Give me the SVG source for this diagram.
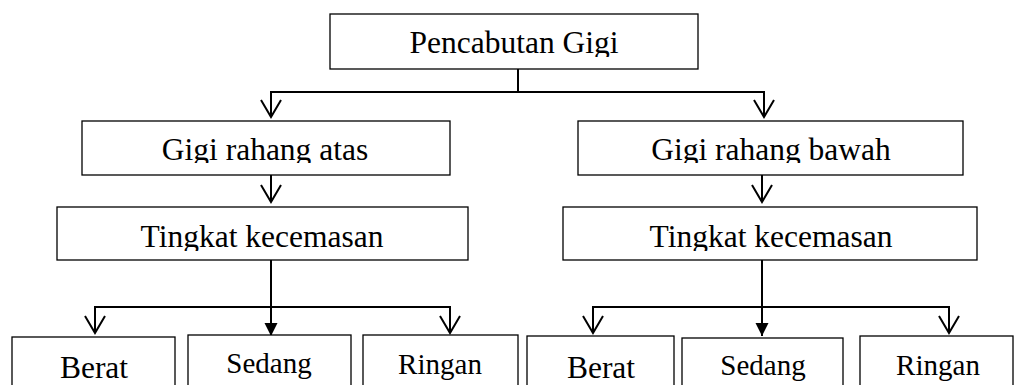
<svg xmlns="http://www.w3.org/2000/svg" width="1014" height="385" viewBox="0 0 1014 385">
<style>
.box{fill:#fff;stroke:#000;stroke-width:1.3}
.conn{fill:none;stroke:#000;stroke-width:2}
.t{font-family:"Liberation Serif","Times New Roman",serif;fill:#000;text-anchor:middle}
.big{font-size:31.5px}
.sm{font-size:29px}
</style>
<defs>
<marker id="vee" markerUnits="userSpaceOnUse" viewBox="-20 -13 23 26" refX="0" refY="0" markerWidth="23" markerHeight="26" orient="auto">
<path d="M-17,-10 L0,0 L-17,10" fill="none" stroke="#000" stroke-width="2"/>
</marker>
<marker id="tri" markerUnits="userSpaceOnUse" viewBox="-15 -8 16 16" refX="0" refY="0" markerWidth="16" markerHeight="16" orient="auto">
<path d="M-13,-6.5 L0,0 L-13,6.5 Z" fill="#000"/>
</marker>
<clipPath id="c-root"><rect x="330" y="14" width="368" height="43"/></clipPath>
<clipPath id="c-upL"><rect x="82" y="121" width="368" height="42"/></clipPath>
<clipPath id="c-upR"><rect x="578" y="121" width="385" height="42"/></clipPath>
<clipPath id="c-tkL"><rect x="57" y="207" width="411" height="44"/></clipPath>
<clipPath id="c-tkR"><rect x="563" y="207" width="414" height="44"/></clipPath>
</defs>

<g id="connectors">
<path class="conn" d="M518,69 V92 H271 V117" marker-end="url(#vee)"/>
<path class="conn" d="M518,92 H764 V117" marker-end="url(#vee)"/>
<path class="conn" d="M271,175 V202" marker-end="url(#vee)"/>
<path class="conn" d="M762,175 V202" marker-end="url(#vee)"/>
<path class="conn" d="M271,260 V336" marker-end="url(#tri)"/>
<path class="conn" d="M271,307 H95 V333" marker-end="url(#vee)"/>
<path class="conn" d="M271,307 H450 V333" marker-end="url(#vee)"/>
<path class="conn" d="M762,260 V336" marker-end="url(#tri)"/>
<path class="conn" d="M762,307 H593 V333" marker-end="url(#vee)"/>
<path class="conn" d="M762,307 H949 V333" marker-end="url(#vee)"/>
</g>

<g id="root">
<rect class="box" x="330" y="14" width="368" height="55"/>
<text class="t big" x="514" y="53" clip-path="url(#c-root)">Pencabutan Gigi</text>
</g>
<g id="upper-jaw">
<rect class="box" x="82" y="121" width="368" height="54"/>
<text class="t big" x="265" y="160" clip-path="url(#c-upL)">Gigi rahang atas</text>
</g>
<g id="lower-jaw">
<rect class="box" x="578" y="121" width="385" height="54"/>
<text class="t big" x="771" y="160" clip-path="url(#c-upR)">Gigi rahang bawah</text>
</g>
<g id="anxiety-left">
<rect class="box" x="57" y="207" width="411" height="53"/>
<text class="t big" x="262" y="247" clip-path="url(#c-tkL)">Tingkat kecemasan</text>
</g>
<g id="anxiety-right">
<rect class="box" x="563" y="207" width="414" height="53"/>
<text class="t big" x="771" y="247" clip-path="url(#c-tkR)">Tingkat kecemasan</text>
</g>

<g id="berat-left">
<rect class="box" x="12" y="337" width="163" height="70"/>
<text class="t big" x="94" y="378">Berat</text>
</g>
<g id="sedang-left">
<rect class="box" x="188" y="335" width="163" height="70"/>
<text class="t sm" x="269" y="373">Sedang</text>
</g>
<g id="ringan-left">
<rect class="box" x="363" y="335" width="155" height="70"/>
<text class="t sm" x="440" y="374">Ringan</text>
</g>
<g id="berat-right">
<rect class="box" x="527" y="336" width="147" height="70"/>
<text class="t big" x="601" y="378">Berat</text>
</g>
<g id="sedang-right">
<rect class="box" x="682" y="338" width="161" height="70"/>
<text class="t sm" x="763" y="375">Sedang</text>
</g>
<g id="ringan-right">
<rect class="box" x="860" y="336" width="153" height="70"/>
<text class="t sm" x="938" y="375">Ringan</text>
</g>
</svg>
